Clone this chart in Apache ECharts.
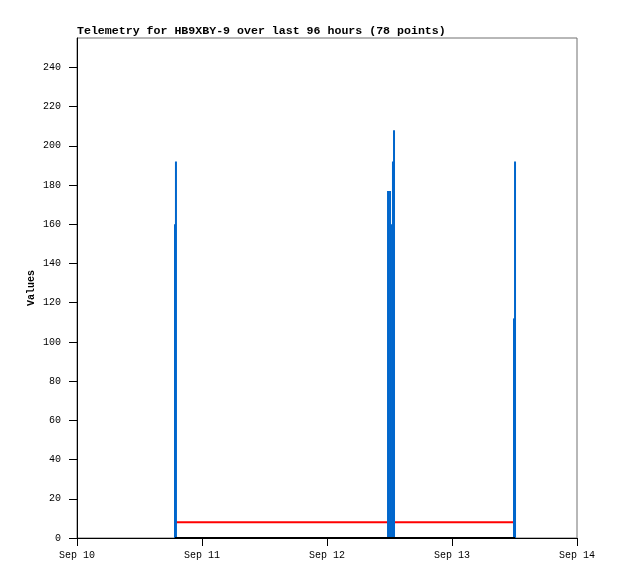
<!DOCTYPE html>
<html>
<head>
<meta charset="utf-8">
<script src="https://cdn.jsdelivr.net/npm/echarts@6/dist/echarts.min.js"></script>
<style>
html,body{margin:0;padding:0;background:#fff;}
#chart{width:618px;height:579px;}
</style>
</head>
<body>
<div id="chart"></div>
<script>
// ---- data ----
var titleText = 'Telemetry for HB9XBY-9 over last 96 hours (78 points)';
var dayLabels = ['Sep 10', 'Sep 11', 'Sep 12', 'Sep 13', 'Sep 14'];
var yTicks = [0, 20, 40, 60, 80, 100, 120, 140, 160, 180, 200, 220, 240];
var packetTimes = ['09-10 18:49', '09-10 19:00', '09-12 11:43', '09-12 12:06', '09-12 12:29', '09-12 12:40', '09-12 12:52', '09-13 11:54', '09-13 12:06'];
var blueValues = [160, 192, 177, 177, 160, 192, 208, 112, 192];
var redValues  = [8, 8, 8, 8, 8, 8, 8, 8, 8];
var blackValues = [0, 0, 0, 0, 0, 0, 0, 0, 0];

// hours since Sep 10 00:00
function toHours(s) {
  var d = parseInt(s.substr(3, 2), 10);
  var h = parseInt(s.substr(6, 2), 10);
  var m = parseInt(s.substr(9, 2), 10);
  return (d - 10) * 24 + h + m / 60;
}
var xs = packetTimes.map(toHours);
function pairs(vals) { return vals.map(function (v, i) { return [xs[i], v]; }); }

var FONT = 'Liberation Mono';
var chart = echarts.init(document.getElementById('chart'), null, {renderer: 'canvas'});
chart.setOption({
  animation: false,
  backgroundColor: '#ffffff',
  title: {
    text: titleText,
    left: 77, top: 25,
    padding: 0,
    textStyle: {fontFamily: FONT, fontWeight: 'bold', fontSize: 11.6, color: '#000'}
  },
  grid: {
    left: 77, right: 41, top: 38, bottom: 41,
    show: true, borderColor: '#707070', borderWidth: 1, backgroundColor: 'transparent'
  },
  xAxis: {
    type: 'value', min: 0, max: 96, interval: 24,
    axisLine: {show: true, onZero: false, lineStyle: {color: '#000', width: 1}},
    axisTick: {show: true, length: 8, lineStyle: {color: '#000'}},
    splitLine: {show: false},
    axisLabel: {
      margin: 12, fontFamily: FONT, fontSize: 10, color: '#000',
      formatter: function (v) { return dayLabels[Math.round(v / 24)]; }
    }
  },
  yAxis: {
    type: 'value', min: 0, max: 255, interval: 20,
    name: 'Values', nameLocation: 'middle', nameGap: 41, nameMoveOverlap: false,
    nameTextStyle: {fontFamily: FONT, fontWeight: 'bold', fontSize: 10, color: '#000'},
    axisLine: {show: true, onZero: false, lineStyle: {color: '#000', width: 1}},
    axisTick: {show: true, length: 8, lineStyle: {color: '#000'}, customValues: yTicks},
    splitLine: {show: false},
    axisLabel: {margin: 16, fontFamily: FONT, fontSize: 10, color: '#000', customValues: yTicks}
  },
  series: [
    {
      type: 'line', data: pairs(redValues), symbol: 'none', z: 2,
      lineStyle: {color: '#ff0000', width: 2}
    },
    {
      type: 'bar', data: pairs(blueValues), barWidth: 2, z: 3,
      itemStyle: {color: '#0066cc'}
    },
    {
      type: 'line', data: pairs(blackValues), symbol: 'none', z: 4,
      lineStyle: {color: '#000000', width: 2}
    }
  ]
});
</script>
</body>
</html>
